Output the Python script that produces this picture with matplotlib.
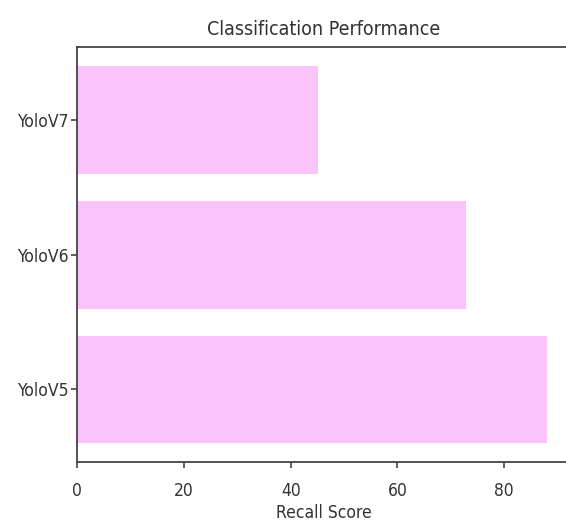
import matplotlib.pyplot as plt

# Datos
modelos = ["YoloV5", "YoloV6", "YoloV7"]
recall = [88.0, 72.8, 45.1]

plt.rcParams['font.family'] = ['DejaVu Sans']
plt.rcParams['font.stretch'] = 'condensed'

fig = plt.figure(figsize=(5.66, 5.24), dpi=100)
ax = fig.add_axes([0.1366, 0.118, 0.871, 0.792])

ax.barh(modelos, recall, color="#fac4fa")
ax.set_title("Classification Performance", fontsize=14, color="#333333", pad=9)
ax.set_xlabel("Recall Score", fontsize=12.5, color="#333333", labelpad=3.5)
ax.tick_params(labelsize=12.5, labelcolor="#333333", length=4, width=1.2,
               color="#444444")
ax.tick_params(axis="x", pad=10)
ax.tick_params(axis="y", pad=2)
for s in ax.spines.values():
    s.set_linewidth(1.3)
    s.set_color("#444444")
# el borde derecho queda fuera de la imagen
ax.spines["right"].set_visible(False)

fig.savefig("out.png", dpi=100)
